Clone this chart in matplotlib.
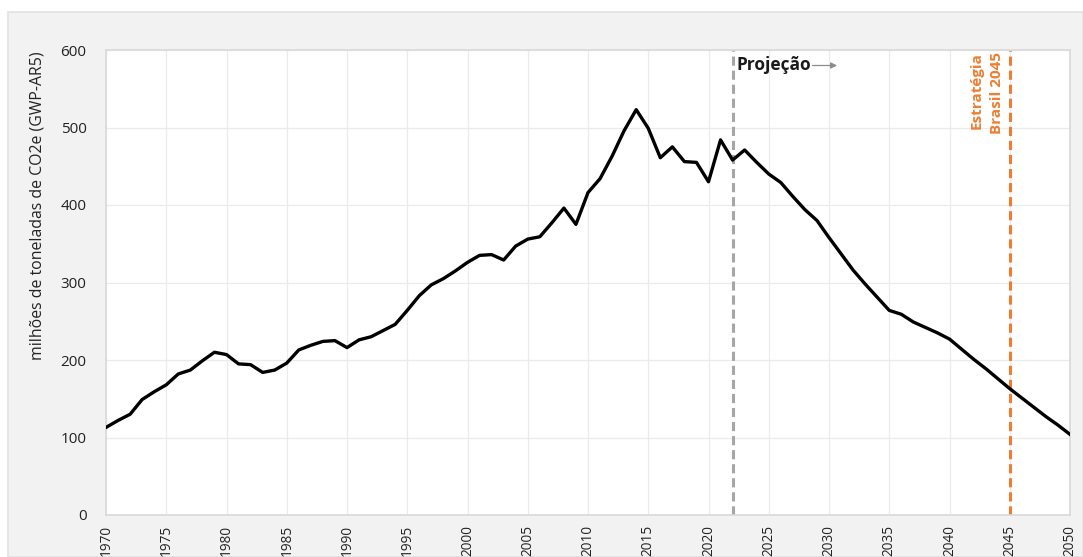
import matplotlib.pyplot as plt
from matplotlib.patches import Rectangle

plt.rcParams['font.family'] = ['Open Sans', 'DejaVu Sans']

# Emissões anuais (milhões de t CO2e, GWP-AR5), histórico + projeção
anos = list(range(1970, 2051))
emissoes = [
    113, 122, 130, 149, 159, 168, 182, 187, 199, 210,  # 1970-1979
    207, 195, 194, 184, 187, 196, 213, 219, 224, 225,  # 1980-1989
    216, 226, 230, 238, 246, 264, 283, 297, 305, 315,  # 1990-1999
    326, 335, 336, 329, 347, 356, 359, 377, 396, 375,  # 2000-2009
    416, 434, 463, 496, 523, 499, 461, 475, 456, 455,  # 2010-2019
    430, 484, 458, 471, 455, 440, 429, 411, 394, 380,  # 2020-2029
    358, 337, 316, 298, 281, 264, 259, 249, 242, 235,  # 2030-2039
    227, 214, 201, 189, 176, 163, 151, 139, 127, 116,  # 2040-2049
    104,                                               # 2050
]
ano_projecao = 2022
ano_estrategia = 2045
xticks = list(range(1970, 2051, 5))
yticks = list(range(0, 601, 100))

fig = plt.figure(figsize=(10.83, 5.57), dpi=100)
fig.patch.set_facecolor('white')
# painel cinza de fundo
fig.patches.append(Rectangle((8 / 1083, 0), 1 - 8 / 1083, 1 - 12 / 557,
                             transform=fig.transFigure, facecolor='#f2f2f2',
                             edgecolor='#e2e2e2', linewidth=1.2, zorder=-10))

ax = fig.add_axes([106 / 1083, 42 / 557, 964 / 1083, 465 / 557])
ax.set_zorder(1)
ax.set_facecolor('white')

ax.plot(anos, emissoes, color='black', linewidth=2.4, zorder=3)

ax.axvline(ano_projecao, color='#a6a6a6', linestyle=(0, (3, 1.6)),
           linewidth=2.2, zorder=2)
ax.axvline(ano_estrategia, color='#ed7d31', linestyle=(0, (3, 1.6)),
           linewidth=2.2, zorder=2)

ax.text(ano_projecao + 0.3, 580, 'Projeção', fontsize=12.5, fontweight='bold',
        color='#1a1a1a', ha='left', va='center')
ax.annotate('', xy=(2030.9, 580), xytext=(2028.4, 580),
            arrowprops=dict(arrowstyle='-|>', color='#8c8c8c', lw=0.9,
                            mutation_scale=9))
ax.text(ano_estrategia - 0.5, 597, 'Estratégia\nBrasil 2045', rotation=90,
        fontsize=11, fontweight='bold', color='#ed7d31', ha='right', va='top',
        multialignment='right', linespacing=1.6)

ax.set_xlim(1970, 2050)
ax.set_ylim(0, 600)
ax.set_xticks(xticks)
ax.set_yticks(yticks)
ax.set_xticklabels([str(a) for a in xticks], rotation=90, fontsize=9.8,
                   color='#222222')
ax.tick_params(axis='y', labelsize=11, colors='#222222', length=0, pad=14)
ax.tick_params(axis='x', length=0, pad=7)
ax.grid(True, color='#ebebeb', linewidth=0.9)
ax.set_axisbelow(True)
for s in ax.spines.values():
    s.set_color('#d9d9d9')
    s.set_linewidth(1.2)

fig.text(38 / 1083, 1 - 206 / 557, 'milhões de toneladas de CO2e (GWP-AR5)',
         rotation=90, fontsize=11.4, color='#222222', ha='center', va='center')

fig.savefig('out.png', dpi=100, facecolor=fig.get_facecolor())
